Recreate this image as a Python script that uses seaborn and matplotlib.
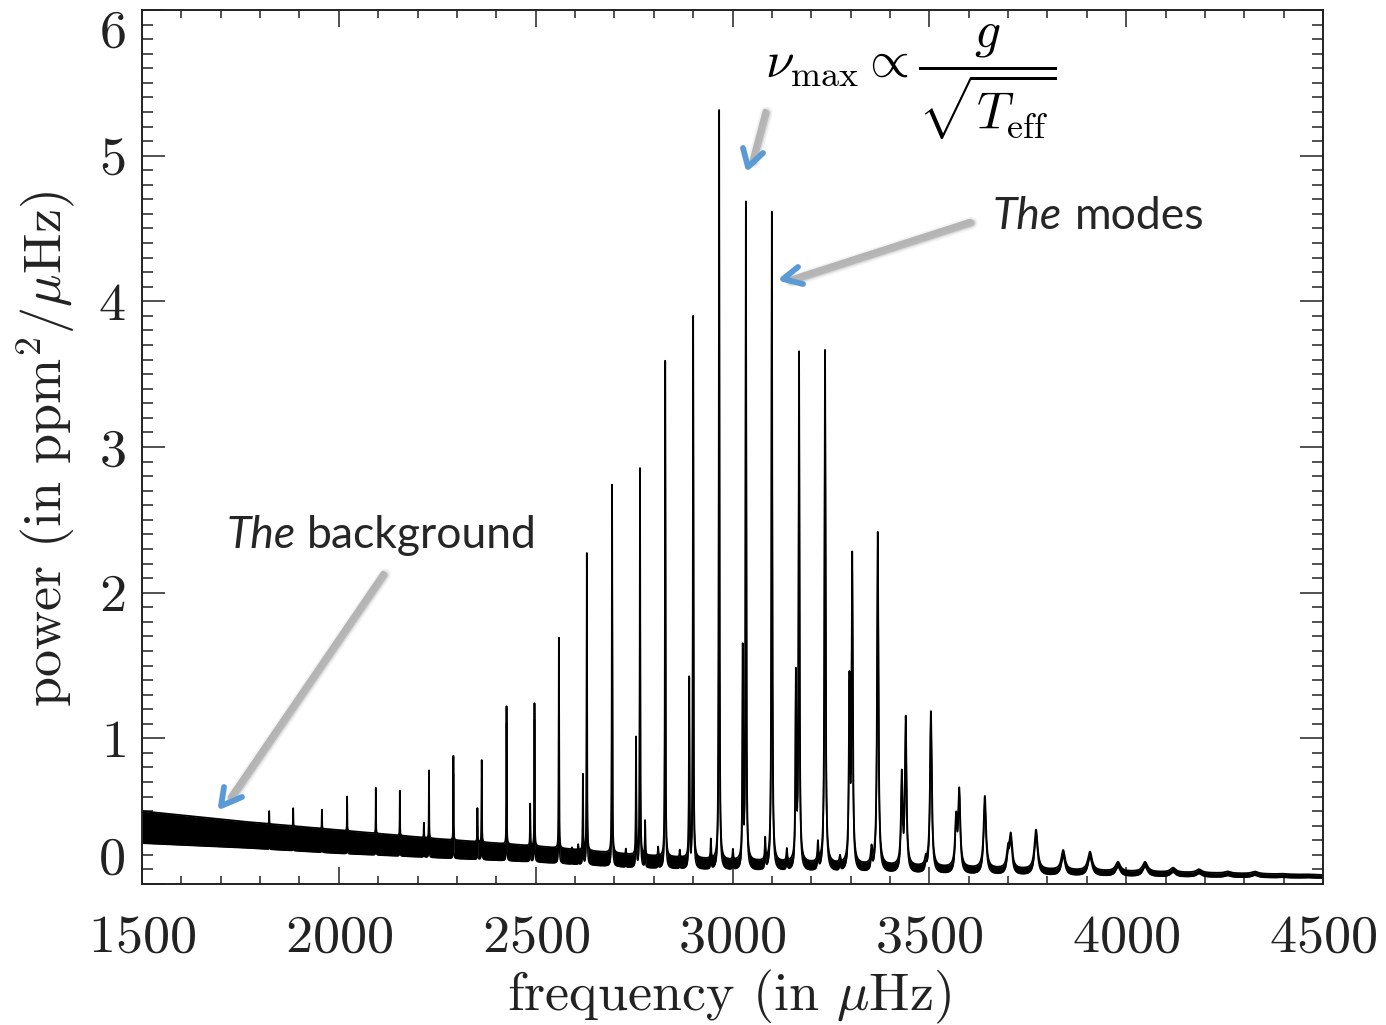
import numpy as np
import matplotlib
matplotlib.use("Agg")
import matplotlib.pyplot as plt
import seaborn as sns
from matplotlib.lines import Line2D
from matplotlib.ticker import MultipleLocator

# ---- oscillation modes: centre frequency (muHz), peak power (ppm^2/muHz), linewidth (muHz)
mode_freq = [1823, 1884, 1957, 2021, 2094, 2155, 2172, 2216, 2229, 2291,
             2352, 2363, 2426, 2460, 2486, 2497, 2541, 2559, 2592, 2608,
             2620, 2630, 2694, 2729, 2755, 2765, 2778, 2811, 2829, 2866,
             2890, 2900, 2945, 2966, 3001, 3026, 3034, 3083, 3100, 3138,
             3161, 3169, 3217, 3235, 3273, 3297, 3304, 3353, 3369, 3430,
             3440, 3491, 3504, 3568, 3576, 3641, 3700, 3707, 3771, 3840,
             3908, 3979, 4048, 4119, 4185, 4258, 4327, 4398, 4462]
mode_power = [0.50, 0.52, 0.51, 0.60, 0.66, 0.64, 0.33, 0.42, 0.78, 0.88,
              0.52, 0.85, 1.22, 0.25, 0.55, 1.24, 0.24, 1.69, 0.25, 0.27,
              0.75, 2.27, 2.74, 0.24, 1.00, 2.85, 0.43, 0.25, 3.59, 0.23,
              1.40, 3.89, 0.30, 5.31, 0.23, 1.58, 4.66, 0.30, 4.61, 0.23,
              1.39, 3.62, 0.27, 3.66, 0.18, 1.34, 2.21, 0.23, 2.41, 0.73,
              1.12, 0.16, 1.18, 0.43, 0.62, 0.60, 0.22, 0.32, 0.37, 0.23,
              0.22, 0.15, 0.15, 0.11, 0.10, 0.085, 0.085, 0.07, 0.066]
mode_width = [0.7, 0.7, 0.7, 0.7, 0.7, 0.7, 0.7, 0.8, 0.8, 0.8,
              0.9, 0.9, 0.9, 0.9, 1.0, 1.0, 1.0, 1.0, 1.1, 1.1,
              1.1, 1.1, 1.2, 1.2, 1.3, 1.3, 1.3, 1.4, 1.4, 1.5,
              1.6, 1.6, 1.7, 1.8, 1.9, 2.0, 2.0, 2.2, 2.3, 2.5,
              2.6, 2.6, 2.8, 3.0, 3.2, 3.4, 3.4, 3.8, 4.0, 4.6,
              4.6, 5.0, 5.2, 6.0, 6.0, 7.0, 8.0, 8.0, 9.5, 11.0,
              12.5, 14.0, 15.0, 16.0, 17.0, 18.0, 19.0, 20.0, 21.0]

# ---- granulation / noise background band (lower and upper envelope)
bg_freq = [1500, 1750, 2000, 2250, 2500, 2750, 3000, 3500, 4000, 4500]
bg_lower = [0.28, 0.25, 0.21, 0.18, 0.15, 0.11, 0.09, 0.065, 0.05, 0.04]
bg_upper = [0.50, 0.43, 0.37, 0.31, 0.26, 0.20, 0.16, 0.115, 0.085, 0.062]

x_ticks = [1500, 2000, 2500, 3000, 3500, 4000, 4500]
y_ticks = [0, 1, 2, 3, 4, 5, 6]

W, H = 1386, 1025

sns.set_style("ticks")
plt.rcParams["font.family"] = ["cmr10", "DejaVu Serif"]
plt.rcParams["mathtext.fontset"] = "cm"
plt.rcParams["axes.formatter.use_mathtext"] = True
plt.rcParams["axes.unicode_minus"] = False

fig = plt.figure(figsize=(W / 100, H / 100), dpi=100)
ax = fig.add_axes([142 / W, 1 - 884 / H, (1323 - 142) / W, (884 - 10) / H])

# ---- spectrum: background band plus Lorentzian mode profiles
freq = np.linspace(1500, 4500, 60001)
lo = np.interp(freq, bg_freq, bg_lower)
hi = np.interp(freq, bg_freq, bg_upper)
modes = np.zeros_like(freq)
for f0, p, w in zip(mode_freq, mode_power, mode_width):
    h = max(p - float(np.interp(f0, bg_freq, bg_upper)), 0.0)
    modes += h / (1.0 + (2.0 * (freq - f0) / w) ** 2)

lower = lo + modes
upper = hi + modes
ax.fill_between(freq, lower, upper, color="black", lw=0)
sns.lineplot(x=freq, y=upper, ax=ax, color="black", lw=1.3,
             estimator=None, sort=False)
sns.lineplot(x=freq, y=lower, ax=ax, color="black", lw=1.1,
             estimator=None, sort=False)

ax.set_xlim(1500, 4500)
ax.set_ylim(0, 6)
ax.set_xticks(x_ticks)
ax.set_yticks(y_ticks)
ax.xaxis.set_minor_locator(MultipleLocator(100))
ax.yaxis.set_minor_locator(MultipleLocator(0.1))

ax.tick_params(axis="both", which="both", direction="in",
               top=True, right=True, colors="#222222", width=1.1)
ax.tick_params(axis="x", which="major", length=12.5, pad=22, labelsize=39)
ax.tick_params(axis="x", which="minor", length=6)
ax.tick_params(axis="y", which="major", length=16.5, pad=12, labelsize=39)
ax.tick_params(axis="y", which="minor", length=8)
for s in ax.spines.values():
    s.set_linewidth(1.4)
    s.set_color("#222222")

yt = ax.yaxis.get_major_ticks()
yt[0].label1.set_verticalalignment("bottom")
yt[-1].label1.set_verticalalignment("top")

ax.set_xlabel(r"frequency (in $\mu$Hz)", fontsize=39, color="#222222",
              va="center")
ax.xaxis.set_label_coords((729.5 - 142) / 1181, -(997 - 884) / 874)
ax.set_ylabel(r"power (in ppm$^2$/$\mu$Hz)", fontsize=39, color="#222222",
              va="center")
ax.yaxis.set_label_coords((46 - 142) / 1181, (884 - 449) / 874)


def fx(x):
    return x / W


def fy(y):
    return 1 - y / H


# ---- annotations
fig.text(fx(765), fy(82), r"$\nu_{\rm max} \propto \dfrac{g}{\sqrt{T_{\rm eff}}}$",
         fontsize=37, ha="left", va="center", color="black")

lab_font = ["Lato", "DejaVu Sans"]
fig.text(fx(227), fy(548), "The", family=lab_font, style="italic",
         fontsize=32, ha="left", va="baseline")
fig.text(fx(307), fy(548), "background", family=lab_font,
         fontsize=32, ha="left", va="baseline")
fig.text(fx(993), fy(229), "The", family=lab_font, style="italic",
         fontsize=32, ha="left", va="baseline")
fig.text(fx(1075), fy(229), "modes", family=lab_font,
         fontsize=32, ha="left", va="baseline")


def arrow(shaft, head):
    sx = [fx(p[0]) for p in shaft]
    sy = [fy(p[1]) for p in shaft]
    for lw, a in [(9, 0.12), (6.5, 0.25), (4.5, 0.55)]:
        fig.add_artist(Line2D([v + 1.5 / W for v in sx], [v - 2 / H for v in sy],
                              transform=fig.transFigure, color="#9a9a9a",
                              lw=lw, alpha=a, solid_capstyle="round"))
    fig.add_artist(Line2D(sx, sy, transform=fig.transFigure, color="#b4b4b4",
                          lw=3.2, solid_capstyle="round"))
    fig.add_artist(Line2D([fx(p[0]) for p in head], [fy(p[1]) for p in head],
                          transform=fig.transFigure, color="#5b9bd5", lw=4.2,
                          solid_capstyle="round", solid_joinstyle="round"))


arrow([(383, 573), (230, 797)], [(224, 787), (221, 806), (242, 797)])
arrow([(970, 221), (790, 279)], [(798, 267), (783, 279), (803, 284)])
arrow([(765, 111), (752, 160)], [(743, 148), (748, 167), (763, 153)])

fig.savefig("out.png", dpi=100)
